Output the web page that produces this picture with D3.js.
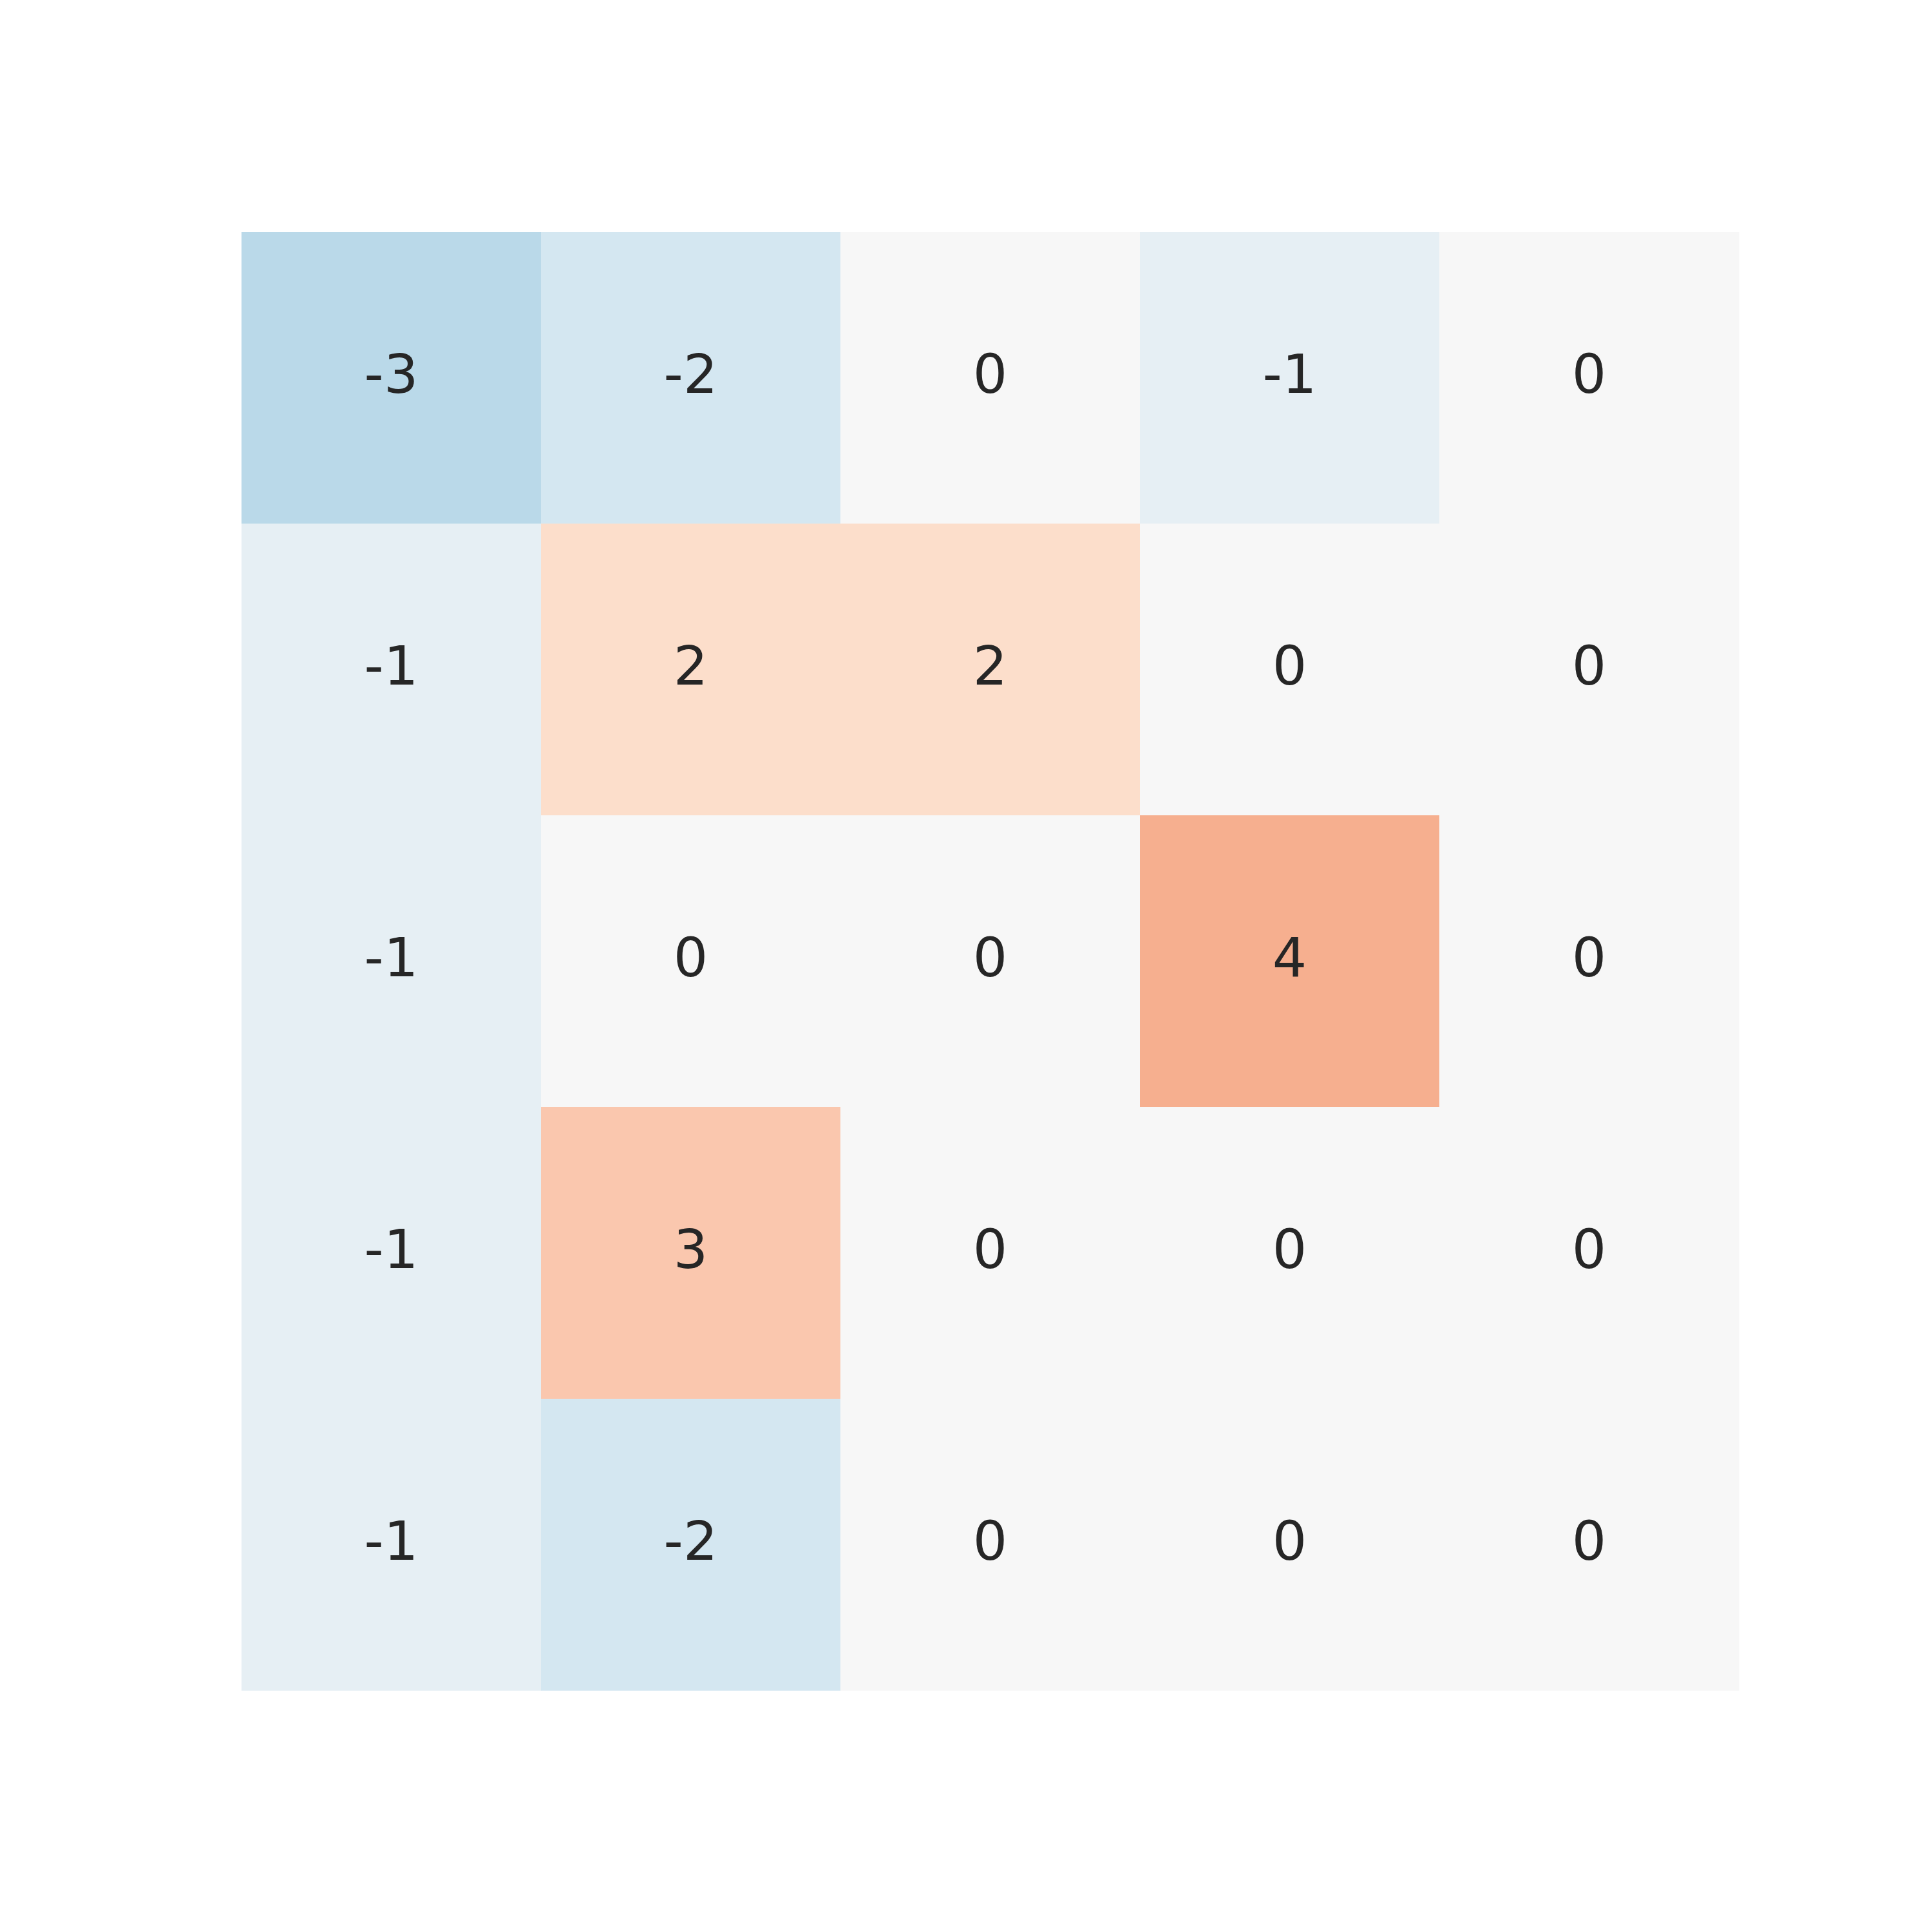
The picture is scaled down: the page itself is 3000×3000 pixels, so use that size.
<!DOCTYPE html>
<html>
<head>
<meta charset="utf-8">
<script src="https://cdn.jsdelivr.net/npm/d3@7"></script>
<style>
  body { margin: 0; background: #ffffff; }
</style>
</head>
<body>
<script>
// heatmap values, one array per row
var rowIds = ["r0", "r1", "r2", "r3", "r4"];
var colIds = ["c0", "c1", "c2", "c3", "c4"];
var row0 = [-3, -2, 0, -1, 0];
var row1 = [-1, 2, 2, 0, 0];
var row2 = [-1, 0, 0, 4, 0];
var row3 = [-1, 3, 0, 0, 0];
var row4 = [-1, -2, 0, 0, 0];
var rows = [row0, row1, row2, row3, row4];
var colorLimit = 11;

var width = 3000;
var height = 3000;
var margin = {left: 375, right: 300, top: 360, bottom: 375};

var cells = [];
rows.forEach(function(r, i){
  r.forEach(function(v, j){
    cells.push({row: rowIds[i], col: colIds[j], value: v});
  });
});

var x = d3.scaleBand()
  .domain(colIds)
  .range([margin.left, width - margin.right]);
var y = d3.scaleBand()
  .domain(rowIds)
  .range([margin.top, height - margin.bottom]);

// RdBu reversed, linear between the 11 stops like matplotlib
var stops = d3.schemeRdBu[11].slice().reverse();
var color = d3.scaleLinear()
  .domain(d3.range(11).map(function(i){ return -colorLimit + i * 2 * colorLimit / 10; }))
  .range(stops)
  .interpolate(d3.interpolateRgb)
  .clamp(true);

var svg = d3.select("body").append("svg")
  .attr("width", width)
  .attr("height", height);

svg.append("rect")
  .attr("width", width)
  .attr("height", height)
  .attr("fill", "#ffffff");

svg.selectAll("rect.cell")
  .data(cells)
  .enter()
  .append("rect")
  .attr("class", "cell")
  .attr("x", function(d){ return x(d.col); })
  .attr("y", function(d){ return y(d.row); })
  .attr("width", x.bandwidth() + 0.5)
  .attr("height", y.bandwidth() + 0.5)
  .attr("fill", function(d){ return color(d.value); });

var fontSize = 84;
svg.selectAll("text.label")
  .data(cells)
  .enter()
  .append("text")
  .attr("class", "label")
  .text(function(d){ return d.value; })
  .attr("x", function(d){ return x(d.col) + x.bandwidth() / 2; })
  .attr("y", function(d){ return y(d.row) + y.bandwidth() / 2 + fontSize * 0.28; })
  .attr("text-anchor", "middle")
  .attr("font-family", "DejaVu Sans")
  .attr("font-size", fontSize + "px")
  .attr("fill", "#262626");
</script>
</body>
</html>
